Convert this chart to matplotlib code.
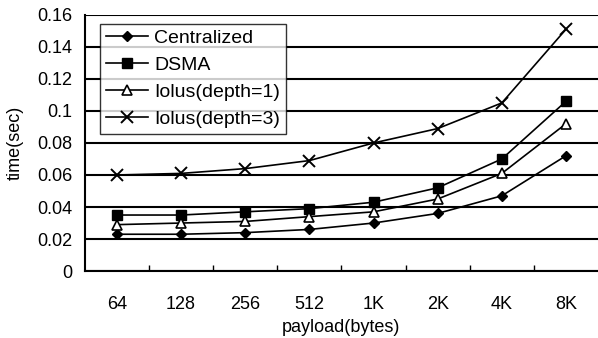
import matplotlib.pyplot as plt
import numpy as np

payload = ['64', '128', '256', '512', '1K', '2K', '4K', '8K']
centralized = [0.023, 0.023, 0.024, 0.026, 0.030, 0.036, 0.047, 0.072]
dsma = [0.035, 0.035, 0.037, 0.039, 0.043, 0.052, 0.070, 0.106]
iolus_d1 = [0.029, 0.030, 0.031, 0.034, 0.037, 0.045, 0.061, 0.092]
iolus_d3 = [0.060, 0.061, 0.064, 0.069, 0.080, 0.089, 0.105, 0.151]

plt.rcParams['font.family'] = ['Liberation Sans', 'DejaVu Sans']

fig, ax = plt.subplots(figsize=(5.98, 3.38), dpi=100)
fig.subplots_adjust(left=0.142, right=1.0, top=0.956, bottom=0.198)

x = np.arange(len(payload))
ax.plot(x, centralized, color='black', lw=1.2, marker='D', ms=5.5, mfc='black', label='Centralized')
ax.plot(x, dsma, color='black', lw=1.2, marker='s', ms=7.5, mfc='black', label='DSMA')
ax.plot(x, iolus_d1, color='black', lw=1.2, marker='^', ms=7.5, mfc='white', mew=1.2, label='Iolus(depth=1)')
ax.plot(x, iolus_d3, color='black', lw=1.2, marker='x', ms=8.5, mew=1.4, label='Iolus(depth=3)')

ax.set_xlim(-0.5, len(payload) - 0.5)
ax.set_ylim(0, 0.16)
ax.set_yticks([0, 0.02, 0.04, 0.06, 0.08, 0.1, 0.12, 0.14, 0.16])
ax.set_yticklabels(['0', '0.02', '0.04', '0.06', '0.08', '0.1', '0.12', '0.14', '0.16'])
ax.yaxis.grid(True, color='black', lw=1.5)
ax.set_axisbelow(True)

ax.set_xticks(x)
ax.set_xticklabels(payload)
ax.tick_params(axis='x', length=0, pad=18, labelsize=13)
ax.tick_params(axis='y', length=0, pad=9, labelsize=13)
ax.set_xticks(np.arange(0.5, len(payload) - 0.5), minor=True)
ax.tick_params(axis='x', which='minor', direction='in', length=4, width=1)

for s in ['top', 'right']:
    ax.spines[s].set_visible(False)
ax.spines['left'].set_linewidth(1.5)
ax.spines['bottom'].set_linewidth(1.5)

ax.set_xlabel('payload(bytes)', fontsize=13, labelpad=4)
ax.set_ylabel('time(sec)', fontsize=13, labelpad=10)

leg = ax.legend(loc='upper left', bbox_to_anchor=(0.029, 0.965), fontsize=14,
                frameon=True, fancybox=False, edgecolor='black',
                borderpad=0.3, labelspacing=0.48, handlelength=2.2, handletextpad=0.3,
                borderaxespad=0.0)
leg.get_frame().set_linewidth(1.0)

fig.savefig('out.png', dpi=100)
